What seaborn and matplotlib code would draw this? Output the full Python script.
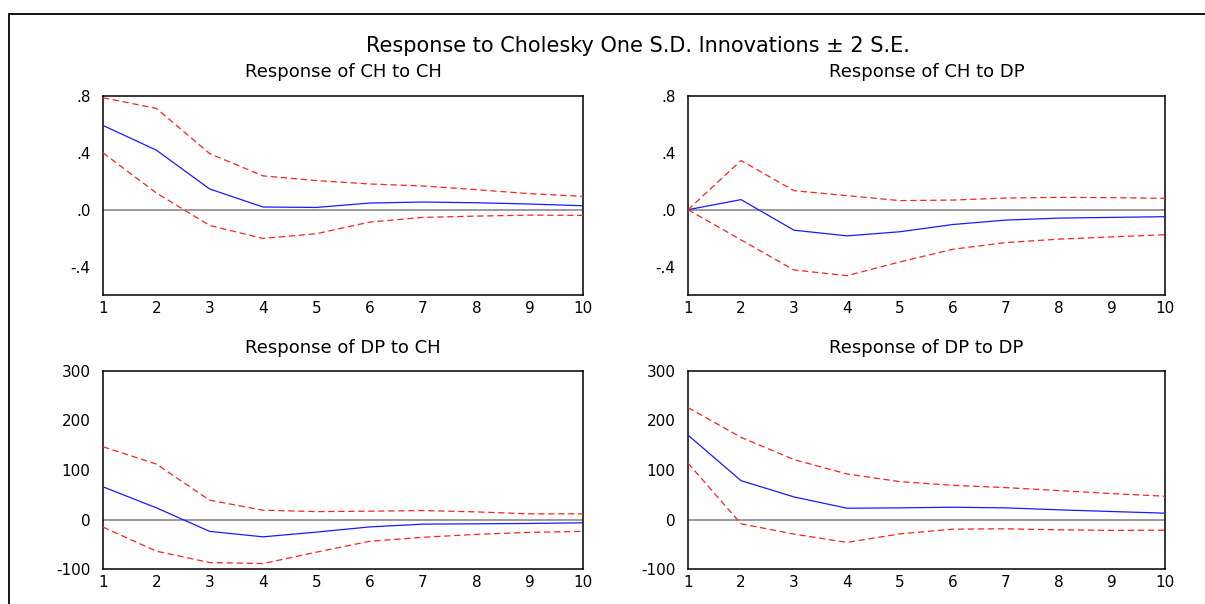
import numpy as np
import pandas as pd
import matplotlib
matplotlib.use("Agg")
import matplotlib.pyplot as plt
import matplotlib.patches as mpatches
import seaborn as sns

# ---------------- data ----------------
periods = [1, 2, 3, 4, 5, 6, 7, 8, 9, 10]

ch_ch_resp = [0.593, 0.419, 0.146, 0.019, 0.016, 0.047, 0.054, 0.049, 0.040, 0.028]
ch_ch_upper = [0.788, 0.713, 0.395, 0.238, 0.205, 0.181, 0.167, 0.141, 0.113, 0.094]
ch_ch_lower = [0.400, 0.118, -0.111, -0.202, -0.169, -0.087, -0.054, -0.045, -0.038, -0.040]

ch_dp_resp = [0.0, 0.071, -0.144, -0.184, -0.155, -0.104, -0.073, -0.059, -0.054, -0.049]
ch_dp_upper = [0.0, 0.346, 0.134, 0.099, 0.064, 0.068, 0.082, 0.087, 0.085, 0.080]
ch_dp_lower = [0.0, -0.212, -0.424, -0.464, -0.367, -0.278, -0.231, -0.207, -0.191, -0.176]

dp_ch_resp = [66.0, 23.6, -24.0, -35.0, -25.5, -15.0, -9.4, -8.7, -8.0, -6.7]
dp_ch_upper = [147.0, 112.0, 39.0, 18.8, 16.0, 16.8, 18.0, 15.4, 11.4, 11.4]
dp_ch_lower = [-15.4, -64.0, -87.0, -89.0, -66.0, -44.0, -36.0, -30.0, -26.0, -24.0]

dp_dp_resp = [170.5, 78.5, 45.6, 22.8, 23.5, 24.8, 23.5, 19.5, 16.1, 12.8]
dp_dp_upper = [226.0, 166.0, 121.0, 92.0, 76.5, 69.0, 64.4, 58.4, 52.3, 47.0]
dp_dp_lower = [114.0, -8.7, -29.5, -46.3, -29.0, -19.5, -18.8, -20.8, -22.0, -21.5]

main_title = "Response to Cholesky One S.D. Innovations \u00b1 2 S.E."
panel_titles = ["Response of CH to CH", "Response of CH to DP",
                "Response of DP to CH", "Response of DP to DP"]

ch_yticks = [-0.4, 0.0, 0.4, 0.8]
ch_ytick_labels = ["-.4", ".0", ".4", ".8"]
dp_yticks = [-100, 0, 100, 200, 300]
dp_ytick_labels = ["-100", "0", "100", "200", "300"]

# ---------------- style ----------------
sns.set_style("white")
plt.rcParams["font.family"] = ["DejaVu Sans"]
plt.rcParams["text.color"] = "black"
plt.rcParams["xtick.labelcolor"] = "black"
plt.rcParams["ytick.labelcolor"] = "black"

W, H = 1205, 604
fig = plt.figure(figsize=(W / 100, H / 100), dpi=100)

# outer frame (extends beyond right/bottom edges)
fig.patches.append(mpatches.Rectangle((9 / W, -0.05), 1.2, (H - 14) / H + 0.05,
                                      transform=fig.transFigure, fill=False,
                                      edgecolor="black", linewidth=1.3))

fig.text(638 / W, 1 - 46 / H, main_title, ha="center", va="center",
         fontsize=15, color="black")

panels = [
    (ch_ch_resp, ch_ch_upper, ch_ch_lower, ch_yticks, ch_ytick_labels, (-0.6, 0.8)),
    (ch_dp_resp, ch_dp_upper, ch_dp_lower, ch_yticks, ch_ytick_labels, (-0.6, 0.8)),
    (dp_ch_resp, dp_ch_upper, dp_ch_lower, dp_yticks, dp_ytick_labels, (-100, 300)),
    (dp_dp_resp, dp_dp_upper, dp_dp_lower, dp_yticks, dp_ytick_labels, (-100, 300)),
]

# pixel boxes: left, right, top, bottom
boxes = [(103, 583, 96, 295), (688, 1165, 96, 295),
         (103, 583, 371, 569), (688, 1165, 371, 569)]
title_y = [72, 72, 348, 348]

for i, ((resp, up, lo, yt, ytl, ylim), (l, r, t, b)) in enumerate(zip(panels, boxes)):
    ax = fig.add_axes([l / W, 1 - b / H, (r - l) / W, (b - t) / H])
    df = pd.DataFrame({
        "period": periods * 3,
        "value": list(resp) + list(up) + list(lo),
        "band": ["resp"] * 10 + ["upper"] * 10 + ["lower"] * 10,
    })
    ax.axhline(0, color="#808080", linewidth=1.1, zorder=1)
    sns.lineplot(data=df, x="period", y="value", hue="band", style="band",
                 palette={"resp": "#1a1aff", "upper": "#ff2020", "lower": "#ff2020"},
                 dashes={"resp": "", "upper": (5, 3), "lower": (5, 3)},
                 linewidth=0.9, legend=False, ax=ax, zorder=3)
    ax.set_xlim(1, 10)
    ax.set_ylim(*ylim)
    ax.set_xticks(periods)
    ax.set_xticklabels([str(p) for p in periods], fontsize=11, color="black")
    ax.set_yticks(yt)
    ax.set_yticklabels(ytl, fontsize=11, color="black")
    ax.set_xlabel("")
    ax.set_ylabel("")
    ax.tick_params(axis="x", direction="out", length=4, width=1, color="black", pad=0)
    ax.tick_params(axis="y", direction="out", length=7, width=1, color="#808080", pad=2)
    for s in ax.spines.values():
        s.set_color("black")
        s.set_linewidth(1.1)
        s.set_visible(True)
    ax.set_facecolor("white")
    fig.text(((l + r) / 2) / W, 1 - title_y[i] / H, panel_titles[i],
             ha="center", va="center", fontsize=13, color="black")

fig.savefig("out.png", dpi=100, facecolor="white")
